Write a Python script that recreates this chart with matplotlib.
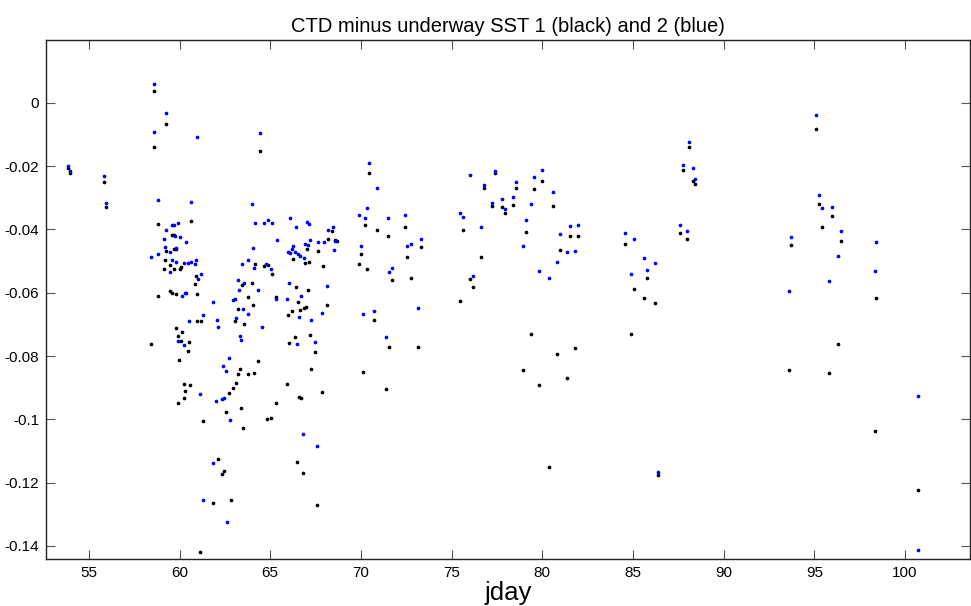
import matplotlib
matplotlib.use("Agg")
import matplotlib.pyplot as plt
from matplotlib.ticker import FuncFormatter

# CTD minus underway SST, sensor 1 (black)
jday_1 = [53.86, 53.95, 55.84, 55.95,
          58.62, 58.57, 59.28, 64.42, 58.82, 60.65,
          59.60, 59.69, 59.71, 59.80, 59.27, 59.21, 59.49,
          59.17, 59.69, 60.02, 60.08, 60.92, 60.83, 63.44, 58.81,
          59.45, 59.60, 59.82, 60.33, 60.94, 63.20, 60.99, 61.18,
          63.04, 63.55, 59.83,
          60.15, 59.91, 60.09, 60.50, 58.45, 60.44, 59.98, 63.31, 63.24,
          60.22, 60.59, 63.11, 62.95, 60.31, 62.73, 60.26, 59.94, 63.39,
          62.58, 61.29, 63.52, 62.10, 62.45, 62.34, 61.84, 62.81, 61.13,
          68.43, 68.21, 68.58, 68.66, 67.03, 67.64, 66.24, 66.94, 67.12,
          64.86, 64.64, 64.18, 67.91, 65.12, 63.97, 66.40, 67.06, 63.79,
          65.34, 66.53, 64.03, 68.13, 66.87, 66.95, 66.66, 65.96, 66.20,
          66.39, 67.21, 66.05, 67.45, 64.33, 67.25, 63.75, 64.11, 65.94,
          67.88, 66.57, 66.70, 65.32, 64.80, 65.04, 66.46, 66.79, 67.60,
          70.47, 70.25, 71.50, 70.87, 72.44, 75.62, 73.30, 72.55, 70.01,
          69.88, 70.32, 71.72, 72.75, 75.44, 70.73, 71.57, 73.12, 70.10,
          71.37,
          77.38, 76.78, 78.54, 79.98, 79.52, 80.57, 77.22, 77.77, 78.36,
          77.94, 79.10, 81.51, 81.97, 80.99, 76.63, 76.04, 76.19, 79.37,
          81.80, 80.81, 78.93, 81.36, 79.80, 80.35,
          84.56, 85.59, 86.21, 85.76, 85.06, 84.89, 86.40,
          88.09, 87.76, 88.28, 88.44, 87.59, 87.95,
          95.08, 95.25, 95.40, 95.95, 96.45, 96.30, 95.78, 93.72, 93.58,
          98.40, 98.36, 100.71]
dsst_1 = [-0.0207, -0.0223, -0.0249, -0.0330,
          0.0037, -0.0141, -0.0066, -0.0152, -0.0384, -0.0375,
          -0.0419, -0.0419, -0.0461, -0.0461, -0.0469, -0.0496, -0.0513,
          -0.0524, -0.0524, -0.0524, -0.0519, -0.0546, -0.0574, -0.0575, -0.0609,
          -0.0595, -0.0600, -0.0604, -0.0602, -0.0604, -0.0653, -0.0688, -0.0690,
          -0.0690, -0.0698, -0.0711,
          -0.0723, -0.0736, -0.0754, -0.0756, -0.0762, -0.0785, -0.0812, -0.0842, -0.0856,
          -0.0889, -0.0892, -0.0885, -0.0900, -0.0912, -0.0917, -0.0934, -0.0948, -0.0964,
          -0.0978, -0.1005, -0.1028, -0.1125, -0.1164, -0.1174, -0.1264, -0.1254, -0.1418,
          -0.0405, -0.0431, -0.0434, -0.0438, -0.0462, -0.0467, -0.0493, -0.0505, -0.0502,
          -0.0513, -0.0516, -0.0511, -0.0516, -0.0541, -0.0568, -0.0583, -0.0592, -0.0613,
          -0.0614, -0.0631, -0.0638, -0.0638, -0.0647, -0.0645, -0.0656, -0.0670, -0.0658,
          -0.0741, -0.0733, -0.0760, -0.0788, -0.0817, -0.0840, -0.0856, -0.0853, -0.0887,
          -0.0913, -0.0929, -0.0934, -0.0948, -0.0999, -0.0997, -0.1135, -0.1169, -0.1270,
          -0.0222, -0.0386, -0.0420, -0.0402, -0.0392, -0.0402, -0.0457, -0.0488, -0.0479,
          -0.0509, -0.0524, -0.0559, -0.0555, -0.0625, -0.0685, -0.0771, -0.0773, -0.0849,
          -0.0905,
          -0.0223, -0.0270, -0.0268, -0.0246, -0.0274, -0.0325, -0.0325, -0.0329, -0.0322,
          -0.0348, -0.0409, -0.0420, -0.0420, -0.0464, -0.0488, -0.0556, -0.0583, -0.0731,
          -0.0774, -0.0793, -0.0845, -0.0869, -0.0891, -0.1152,
          -0.0446, -0.0616, -0.0632, -0.0553, -0.0587, -0.0729, -0.1177,
          -0.0140, -0.0213, -0.0248, -0.0257, -0.0413, -0.0431,
          -0.0084, -0.0319, -0.0393, -0.0359, -0.0437, -0.0763, -0.0853, -0.0449, -0.0845,
          -0.0618, -0.1037, -0.1223]

# CTD minus underway SST, sensor 2 (blue)
jday_2 = [53.86, 53.95, 55.84, 55.95,
          58.62, 58.57, 59.28, 60.94, 64.42, 58.82, 60.65, 63.97,
          59.61, 59.71, 59.93, 59.27, 59.75, 60.02, 59.17, 60.33, 59.82,
          59.21, 59.49, 58.82, 58.45, 59.60, 59.83, 60.22, 60.44, 60.61,
          60.91, 60.83, 59.45, 61.18, 61.03, 63.44, 63.20, 63.55, 63.26,
          60.15, 60.31, 61.84, 62.95, 63.04, 63.52, 61.29, 60.50, 62.08,
          63.09, 62.10,
          59.94, 60.26, 63.31, 63.39, 62.73, 62.37, 62.58, 61.13, 62.45,
          62.34, 61.99, 62.80, 61.84, 61.27, 62.63,
          64.16, 64.66, 64.86, 65.12, 66.07, 66.40, 67.03, 67.12, 68.44,
          68.21, 65.37, 67.21, 66.92, 67.06, 67.65, 67.95, 68.58, 68.54,
          66.24, 66.18, 64.03, 65.96, 66.07, 66.39, 66.53, 66.64, 66.84,
          63.79, 64.78, 64.11, 65.04, 66.05, 68.13, 64.33, 65.30, 65.93,
          66.70, 63.75, 67.88, 66.57, 67.25, 64.56,
          67.45, 66.46, 66.79, 67.60,
          70.47, 70.87, 70.32, 69.88, 70.25, 71.50, 72.44, 75.44, 75.62,
          73.30, 72.75, 72.55, 70.01, 71.72, 71.57, 73.12, 70.73, 70.10,
          71.37,
          76.04, 77.38, 76.78, 78.54, 79.98, 79.52, 80.57, 77.22, 77.77,
          78.36, 77.94, 79.37, 79.10, 76.63, 78.93, 81.51, 81.97, 80.99,
          81.36, 81.82, 80.81, 76.19, 79.80, 80.35,
          84.56, 85.06, 85.59, 86.21, 85.76, 84.89, 86.40,
          88.09, 87.76, 88.28, 88.44, 87.59, 87.95,
          95.08, 95.25, 95.40, 95.95, 96.45, 96.30, 95.78, 93.72, 93.58,
          98.40, 98.36, 100.71, 100.71]
dsst_2 = [-0.0199, -0.0217, -0.0233, -0.0316,
          0.0058, -0.0093, -0.0034, -0.0107, -0.0097, -0.0308, -0.0315, -0.0319,
          -0.0385, -0.0387, -0.0380, -0.0403, -0.0421, -0.0423, -0.0429, -0.0440, -0.0459,
          -0.0455, -0.0473, -0.0478, -0.0488, -0.0496, -0.0502, -0.0507, -0.0507, -0.0502,
          -0.0496, -0.0511, -0.0535, -0.0542, -0.0558, -0.0509, -0.0560, -0.0570, -0.0592,
          -0.0609, -0.0602, -0.0631, -0.0623, -0.0621, -0.0650, -0.0671, -0.0690, -0.0686,
          -0.0680, -0.0707,
          -0.0752, -0.0766, -0.0736, -0.0750, -0.0806, -0.0830, -0.0846, -0.0920, -0.0934,
          -0.0937, -0.0941, -0.1001, -0.1137, -0.1254, -0.1323,
          -0.0380, -0.0379, -0.0369, -0.0379, -0.0364, -0.0393, -0.0377, -0.0383, -0.0394,
          -0.0401, -0.0435, -0.0434, -0.0446, -0.0450, -0.0441, -0.0440, -0.0436, -0.0464,
          -0.0453, -0.0463, -0.0460, -0.0470, -0.0476, -0.0471, -0.0479, -0.0484, -0.0489,
          -0.0496, -0.0508, -0.0522, -0.0524, -0.0568, -0.0580, -0.0592, -0.0620, -0.0619,
          -0.0612, -0.0668, -0.0665, -0.0676, -0.0686, -0.0708,
          -0.0755, -0.0761, -0.1046, -0.1085,
          -0.0190, -0.0269, -0.0333, -0.0355, -0.0363, -0.0365, -0.0355, -0.0349, -0.0362,
          -0.0430, -0.0445, -0.0453, -0.0452, -0.0521, -0.0536, -0.0649, -0.0657, -0.0668,
          -0.0741,
          -0.0228, -0.0216, -0.0260, -0.0252, -0.0213, -0.0235, -0.0283, -0.0317, -0.0303,
          -0.0299, -0.0337, -0.0319, -0.0372, -0.0392, -0.0452, -0.0388, -0.0386, -0.0415,
          -0.0473, -0.0467, -0.0502, -0.0546, -0.0530, -0.0555,
          -0.0412, -0.0430, -0.0491, -0.0505, -0.0527, -0.0541, -0.1167,
          -0.0123, -0.0196, -0.0206, -0.0240, -0.0386, -0.0406,
          -0.0040, -0.0292, -0.0334, -0.0328, -0.0406, -0.0485, -0.0563, -0.0423, -0.0595,
          -0.0439, -0.0532, -0.0925, -0.1413]

x_ticks = [55, 60, 65, 70, 75, 80, 85, 90, 95, 100]
y_ticks = [0, -0.02, -0.04, -0.06, -0.08, -0.1, -0.12, -0.14]

plt.rcParams['font.family'] = ['Liberation Sans', 'DejaVu Sans']

fig = plt.figure(figsize=(9.71, 6.06), dpi=100)
ax = fig.add_axes([0.0474, 0.0776, 0.952, 0.8564])

ax.plot(jday_1, dsst_1, '.', color='k', markersize=3.3, linestyle='none')
ax.plot(jday_2, dsst_2, '.', color=(0, 0, 1), markersize=3.3, linestyle='none')

ax.set_xlim(52.64, 103.6)
ax.set_ylim(-0.1441, 0.0198)
ax.set_xticks(x_ticks)
ax.set_yticks(y_ticks)
ax.yaxis.set_major_formatter(FuncFormatter(lambda v, p: '0' if abs(v) < 1e-9 else ('%g' % v)))

ax.tick_params(direction='in', length=6.5, width=0.8, color='#555555',
               top=True, right=True, labelsize=11, pad=5)
for s in ax.spines.values():
    s.set_color('#222222')
    s.set_linewidth(1.0)

ax.set_title('CTD minus underway SST 1 (black) and 2 (blue)', fontsize=14.5, pad=6)
ax.set_xlabel('jday', fontsize=18.5, labelpad=1)

fig.savefig('out.png', dpi=100)
